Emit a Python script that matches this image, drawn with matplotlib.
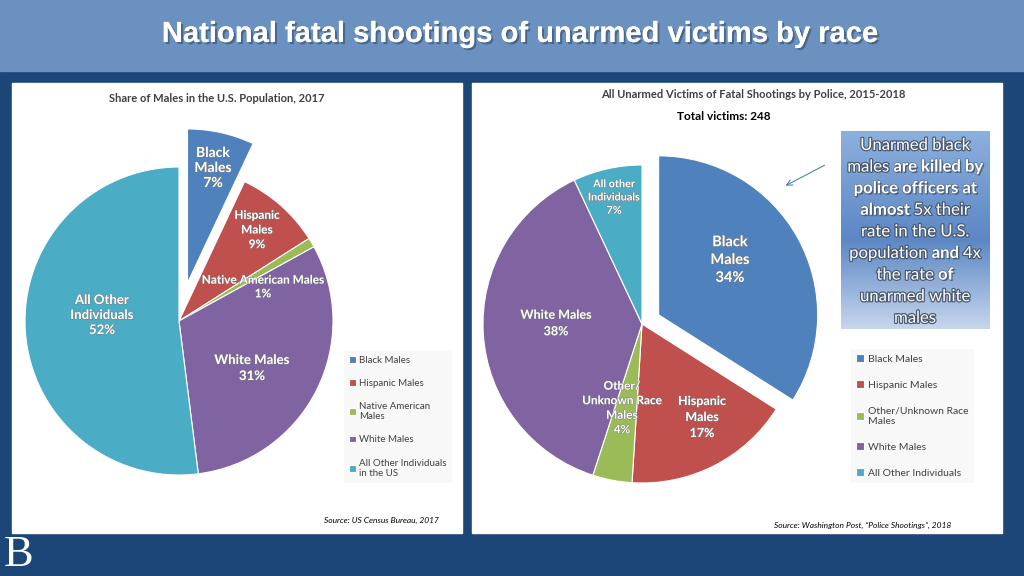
import numpy as np
import matplotlib
matplotlib.use('Agg')
import matplotlib.pyplot as plt
import matplotlib.patheffects as pe
from matplotlib.patches import Rectangle

plt.rcParams['font.family'] = ['Lato', 'DejaVu Sans']

# data
pop_labels = ['Black Males', 'Hispanic Males', 'Native American\nMales', 'White Males',
              'All Other Individuals\nin the US']
pop_share = [7, 9, 1, 31, 52]

vic_labels = ['Black Males', 'Hispanic Males', 'Other/Unknown Race\nMales', 'White Males',
              'All Other Individuals']
vic_share = [34, 17, 4, 38, 7]

colors = ['#4f81bd', '#c0504d', '#9bbb59', '#8064a2', '#4bacc6']

H = 576
def Y(y):
    return H - y

fig = plt.figure(figsize=(10.24, 5.76), dpi=100)
ax = fig.add_axes([0, 0, 1, 1])

# background, header band, white panels
ax.add_patch(Rectangle((0, 0), 1024, 576, color='#1b4677', zorder=0))
ax.add_patch(Rectangle((0, Y(71)), 1024, 71, color='#6a91c0', zorder=1))
ax.add_patch(Rectangle((12, Y(533)), 450, 450, color='white', zorder=1))
ax.add_patch(Rectangle((472, Y(533)), 530, 450, color='white', zorder=1))

ax.text(520, Y(34), 'National fatal shootings of unarmed victims by race',
        fontsize=21, fontweight='bold', color='white', ha='center', va='center',
        family=['Liberation Sans Narrow', 'Liberation Sans', 'DejaVu Sans'],
        path_effects=[pe.SimpleLineShadow(offset=(1.5, -1.5), shadow_color='#2d3d55', alpha=0.6),
                      pe.withSimplePatchShadow(offset=(1.5, -1.5), shadow_rgbFace='#2d3d55', alpha=0.5),
                      pe.Normal()], zorder=5)

# left pie
w1, _ = ax.pie(pop_share, colors=colors, startangle=90, counterclock=False,
               center=(179, Y(321)), radius=154, explode=[39, 0, 0, 0, 0],
               wedgeprops=dict(edgecolor='white', linewidth=0.8), frame=True)
for w in w1:
    w.set_zorder(3)

# right pie
w2, _ = ax.pie(vic_share, colors=colors, startangle=90, counterclock=False,
               center=(642, Y(324)), radius=159, explode=[19, 0, 0, 0, 0],
               wedgeprops=dict(edgecolor='white', linewidth=0.8), frame=True)
for w in w2:
    w.set_zorder(3)

def lab(x, y, s, size, ls=1.25):
    ax.text(x, Y(y), s, fontsize=size, fontweight='bold', color='white', ha='center',
            va='center', linespacing=ls, zorder=6,
            path_effects=[pe.withStroke(linewidth=0.6, foreground='#777777')])

lab(213, 168, 'Black\nMales\n7%', 10, 1.3)
lab(257, 230, 'Hispanic\nMales\n9%', 8.5, 1.4)
lab(263, 287, 'Native American Males\n1%', 8.5, 1.3)
lab(102, 315, 'All Other\nIndividuals\n52%', 9.5, 1.3)
lab(252, 368, 'White Males\n31%', 9.5, 1.4)

lab(614, 197, 'All other\nIndividuals\n7%', 7.8, 1.25)
lab(730, 260, 'Black\nMales\n34%', 10.5, 1.35)
lab(556, 323, 'White Males\n38%', 9, 1.45)
lab(622, 408, 'Other/\nUnknown Race\nMales\n4%', 8.5, 1.4)
lab(702, 417, 'Hispanic\nMales\n17%', 9, 1.4)

# panel titles
ax.text(217, Y(99), 'Share of Males in the U.S. Population, 2017', fontsize=8,
        fontweight='bold', color='#404040', ha='center', va='center', zorder=5)
ax.text(753, Y(95), 'All Unarmed Victims of Fatal Shootings by Police, 2015-2018', fontsize=8,
        fontweight='bold', color='#404040', ha='center', va='center', zorder=5)
ax.text(724, Y(117), 'Total victims: 248', fontsize=8.5, fontweight='bold',
        color='black', ha='center', va='center', zorder=5)

# legends
leg1 = ax.legend(w1, pop_labels, loc='upper left', bbox_to_anchor=(339, Y(346)),
                 bbox_transform=ax.transData, fontsize=7, frameon=True,
                 handlelength=0.7, handleheight=0.7, handletextpad=0.4,
                 labelspacing=1.45, borderpad=0.5, labelcolor='#404040')
leg1.get_frame().set_facecolor('#f7f7f7')
leg1.get_frame().set_edgecolor('none')
leg1.get_frame().set_boxstyle('square', pad=0)
ax.add_artist(leg1)

leg2 = ax.legend(w2, vic_labels, loc='upper left', bbox_to_anchor=(846, Y(344)),
                 bbox_transform=ax.transData, fontsize=7.5, frameon=True,
                 handlelength=0.7, handleheight=0.7, handletextpad=0.4,
                 labelspacing=1.6, borderpad=0.5, labelcolor='#404040')
leg2.get_frame().set_facecolor('#f7f7f7')
leg2.get_frame().set_edgecolor('none')
leg2.get_frame().set_boxstyle('square', pad=0)

# callout box with smooth vertical gradient
t = np.linspace(0, 1, 300)
stops = [0, 0.55, 1]
img = np.stack([np.interp(t, stops, [0.55, 0.36, 0.78]),
                np.interp(t, stops, [0.69, 0.53, 0.84]),
                np.interp(t, stops, [0.87, 0.77, 0.93])], axis=-1)[:, None, :]
ax.imshow(img, extent=(841, 990, Y(329), Y(131)), aspect='auto', zorder=4)

# (text, bold) segments per line
box_lines = [[('Unarmed black', False)],
             [('males ', False), ('are killed by', True)],
             [('police officers at', True)],
             [('almost ', True), ('5x their', False)],
             [('rate in the U.S.', False)],
             [('population ', False), ('and ', True), ('4x', False)],
             [('the rate ', False), ('of', True)],
             [('unarmed white', False)],
             [('males', False)]]
renderer = fig.canvas.get_renderer()
glow = [pe.withStroke(linewidth=1.8, foreground='#4a5a70')]
crisp = [pe.withSimplePatchShadow(offset=(1, -1), shadow_rgbFace='#34445a', alpha=0.7),
         pe.withStroke(linewidth=0.8, foreground='#50607a')]
for i, segs in enumerate(box_lines):
    texts = []
    for s, b in segs:
        tx = ax.text(0, Y(145 + i * 21.6), s, fontsize=12, color='white', ha='left',
                     va='center', fontweight='bold' if b else 'normal', zorder=6,
                     path_effects=crisp if b else glow)
        texts.append(tx)
    widths = [tx.get_window_extent(renderer).width for tx in texts]
    x = 915 - sum(widths) / 2
    for tx, wd in zip(texts, widths):
        tx.set_x(x)
        x += wd

ax.annotate('', xy=(783, Y(187)), xytext=(827, Y(164)),
            arrowprops=dict(arrowstyle='->', color='#4f81bd', lw=0.8), zorder=6)

# sources
ax.text(381, Y(520), 'Source: US Census Bureau, 2017', fontsize=6, style='italic',
        color='black', ha='center', va='center', zorder=5)
ax.text(863, Y(525), 'Source: Washington Post, \u201cPolice Shootings\u201d, 2018', fontsize=6,
        style='italic', color='black', ha='center', va='center', zorder=5)

ax.text(19, Y(555), 'B', fontsize=32, color='white', ha='center', va='center',
        family=['Liberation Serif', 'DejaVu Serif'], zorder=5)

ax.set_xlim(0, 1024)
ax.set_ylim(0, 576)
ax.set_aspect('auto')
ax.axis('off')

fig.savefig('out.png', dpi=100)
